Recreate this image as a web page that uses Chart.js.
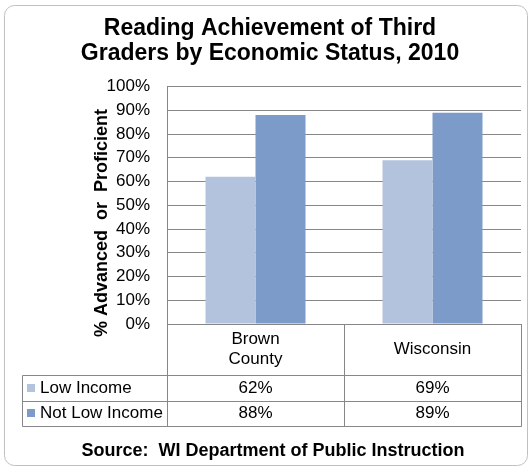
<!DOCTYPE html>
<html>
<head>
<meta charset="utf-8">
<script src="https://cdn.jsdelivr.net/npm/chart.js@4.4.0/dist/chart.umd.min.js"></script>
<style>
html,body{margin:0;padding:0;background:#fff}
#wrap{width:530px;height:468px;position:relative}
canvas{display:block}
</style>
</head>
<body>
<div id="wrap"><canvas id="c" width="530" height="468"></canvas></div>
<script>
// ---- data ----
const categories = [['Brown', 'County'], 'Wisconsin'];
const seriesNames = ['Low Income', 'Not Low Income'];
const lowIncome = [62, 69];
const notLowIncome = [88, 89];
const yTickMin = 0;
const yTickMax = 100;
const yTickStep = 10;
const titleLines = ['Reading Achievement of Third', 'Graders by Economic Status, 2010'];
const yAxisTitle = '% Advanced  or  Proficient';
const sourceText = 'Source:  WI Department of Public Instruction';

// ---- styles ----
const FONT = "'Liberation Sans', Arial, Helvetica, sans-serif";
const COLORS = ['#B3C3DE', '#7C9BC8'];
const LINE = '#878787';

Chart.defaults.font.family = FONT;
Chart.defaults.color = '#000';

const framePlugin = {
  id: 'frame',
  beforeDraw(chart) {
    const ctx = chart.ctx;
    ctx.save();
    ctx.fillStyle = '#fff';
    ctx.fillRect(0, 0, chart.width, chart.height);
    ctx.strokeStyle = '#c0c0c0';
    ctx.lineWidth = 1;
    ctx.beginPath();
    ctx.roundRect(4.5, 5.5, 523, 460, 10);
    ctx.stroke();
    ctx.restore();
  }
};

const tablePlugin = {
  id: 'dataTable',
  afterDraw(chart) {
    const ctx = chart.ctx;
    const a = chart.chartArea;
    const x = chart.scales.x;
    const b = a.bottom;
    const r1 = b + 50.7, r2 = b + 76.5, r3 = b + 102;
    const tableLeft = 21.7;
    const mid = (x.getPixelForTick(0) + x.getPixelForTick(1)) / 2;
    const p = v => Math.round(v) + 0.5;
    ctx.save();
    ctx.strokeStyle = LINE;
    ctx.lineWidth = 1;
    const line = (x1, y1, x2, y2) => {
      ctx.beginPath();
      ctx.moveTo(x1, y1);
      ctx.lineTo(x2, y2);
      ctx.stroke();
    };
    [r1, r2, r3].forEach(y => line(p(tableLeft), p(y), p(a.right), p(y)));
    [a.left, mid, a.right].forEach(xx => line(p(xx), p(b), p(xx), p(r3)));
    line(p(tableLeft), p(r1), p(tableLeft), p(r3));

    ctx.textBaseline = 'middle';
    ctx.font = '17px ' + FONT;
    chart.data.datasets.forEach((ds, i) => {
      const top = i === 0 ? r1 : r2;
      const bot = i === 0 ? r2 : r3;
      const cy = (top + bot) / 2;
      ctx.fillStyle = ds.backgroundColor;
      ctx.fillRect(27, Math.round(cy - 4), 8, 8);
      ctx.fillStyle = '#000';
      ctx.textAlign = 'left';
      ctx.fillText(ds.label, 40, cy + 0.5);
      ctx.textAlign = 'center';
      ds.data.forEach((v, j) => {
        ctx.fillText(v + '%', x.getPixelForValue(j), cy + 0.5);
      });
    });

    // y-axis title
    ctx.save();
    ctx.translate(102, 223);
    ctx.rotate(-Math.PI / 2);
    ctx.font = 'bold 18px ' + FONT;
    ctx.textAlign = 'center';
    ctx.textBaseline = 'middle';
    ctx.fillStyle = '#000';
    ctx.fillText(yAxisTitle, 0, 0);
    ctx.restore();

    // source
    ctx.font = 'bold 18px ' + FONT;
    ctx.textAlign = 'center';
    ctx.textBaseline = 'middle';
    ctx.fillStyle = '#000';
    ctx.fillText(sourceText, 273, 451);
    ctx.restore();
  }
};

new Chart(document.getElementById('c'), {
  type: 'bar',
  data: {
    labels: categories,
    datasets: [
      { label: seriesNames[0], data: lowIncome, backgroundColor: COLORS[0], borderWidth: 0 },
      { label: seriesNames[1], data: notLowIncome, backgroundColor: COLORS[1], borderWidth: 0 }
    ]
  },
  options: {
    responsive: false,
    devicePixelRatio: 1,
    animation: false,
    layout: { padding: { left: 19, right: 9, top: 0, bottom: 0 } },
    datasets: { bar: { barPercentage: 1, categoryPercentage: 100 / 177 } },
    plugins: {
      legend: { display: false },
      tooltip: { enabled: false },
      title: {
        display: true,
        text: titleLines,
        color: '#000',
        font: { family: FONT, size: 23, weight: 'bold', lineHeight: 1.07 },
        padding: { top: 16.75, bottom: 20.6 }
      }
    },
    scales: {
      x: {
        grid: { display: false },
        border: { display: true, color: LINE },
        ticks: {
          font: { size: 17, lineHeight: 1.2 },
          color: '#000',
          padding: 7,
          maxRotation: 0,
          crossAlign: 'center'
        },
        afterFit(s) { s.height = 144; }
      },
      y: {
        min: yTickMin,
        max: yTickMax,
        grid: { color: LINE, drawTicks: false },
        border: { display: true, color: LINE },
        ticks: {
          stepSize: yTickStep,
          font: { size: 17 },
          color: '#000',
          padding: 17,
          callback: v => v + '%'
        },
        afterFit(s) { s.width = 148; }
      }
    }
  },
  plugins: [framePlugin, tablePlugin]
});
</script>
</body>
</html>
